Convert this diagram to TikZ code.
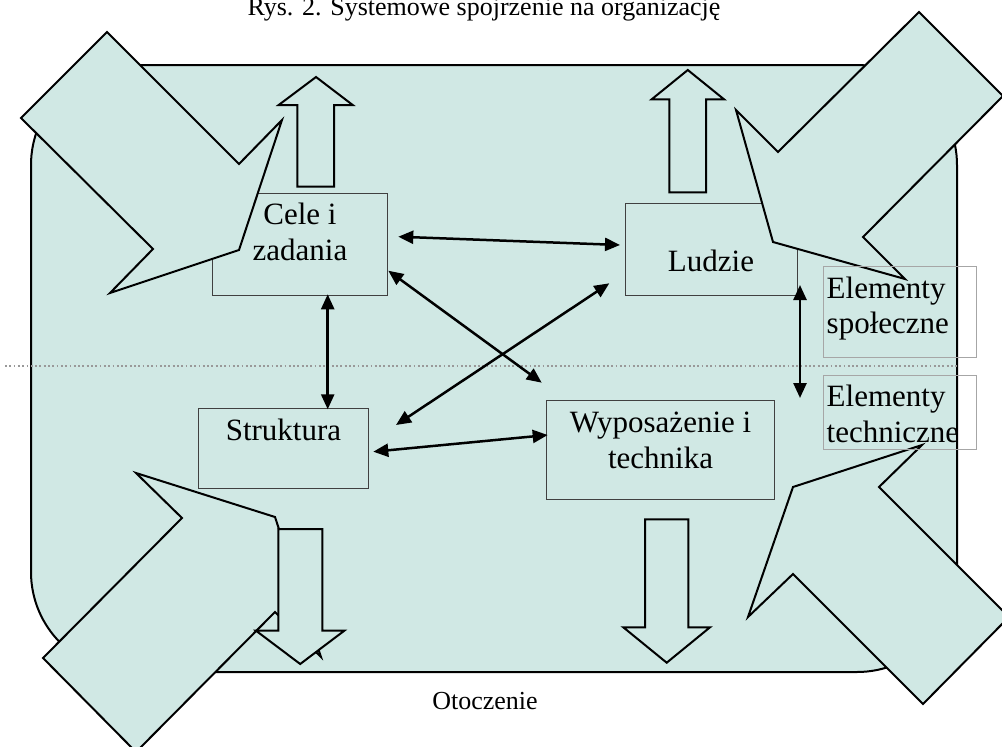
\documentclass[tikz,border=0pt]{standalone}
\usepackage{fontspec}
\setmainfont{Liberation Serif}
\usetikzlibrary{arrows.meta}
\definecolor{bgc}{HTML}{D0E8E4}
\begin{document}
\begin{tikzpicture}[x=1pt,y=-1pt,
  bigarrow/.style={fill=bgc,draw=black,line width=2pt},
  blockarrow/.style={fill=bgc,draw=black,line width=2pt},
  box/.style={rectangle,draw=black!75,line width=1pt,inner sep=0pt,outer sep=0pt},
  greybox/.style={rectangle,draw=black!35,line width=1pt,inner sep=0pt,outer sep=0pt},
  dbl/.style={line width=2.5pt,{Triangle[length=15pt,width=13pt]}-{Triangle[length=15pt,width=13pt]}},
  btxt/.style={font=\fontsize{31}{36}\selectfont,inner sep=0pt,anchor=base},
  ltxt/.style={font=\fontsize{31}{36}\selectfont,inner sep=0pt,anchor=base west},
  stxt/.style={font=\fontsize{26}{30}\selectfont,inner sep=0pt,anchor=base}]
\useasboundingbox (0,0) rectangle (1002,747);
% background (organisation)
\draw[fill=bgc,line width=2pt,rounded corners=100pt] (31,65) rectangle (957,672);
% dotted separator
\draw[draw=black!40,line width=1.8pt,dash pattern=on 1.8pt off 2.5pt] (5,365.7) -- (959,365.7);
% boxes
\node[box,minimum width=174.8pt,minimum height=102.3pt] (cele) at (300,244.2) {};
\node[box,minimum width=172.3pt,minimum height=92pt] (ludzie) at (711.2,249.3) {};
\node[box,minimum width=170pt,minimum height=79.6pt] (struktura) at (283.3,448.5) {};
\node[box,minimum width=227.6pt,minimum height=98.3pt] (wypos) at (660.5,449.9) {};
% big environment arrows
\draw[bigarrow] (107,32) -- (21,118) -- (153,249) -- (110,293) -- (239,250) -- (282,120) -- (239,164) -- cycle;
\draw[bigarrow] (919,12) -- (1003,96) -- (863,237) -- (905,279) -- (773,242) -- (736,110) -- (778,152) -- cycle;
\draw[bigarrow] (748,617) -- (793,487) -- (922,445) -- (879,487) -- (1009,617) -- (923,704) -- (793,574) -- cycle;
\draw[bigarrow] (136,473) -- (275,517) -- (321,657) -- (275,612) -- (136,752) -- (43,658) -- (182,518) -- cycle;
% block arrows up / down
\draw[blockarrow] (297.3,186.7) -- (297.3,105) -- (278.7,105) -- (316,77) -- (352.7,105) -- (334,105) -- (334,186.7) -- cycle;
\draw[blockarrow] (669.3,192.3) -- (669.3,99.3) -- (651.7,99.3) -- (687.8,70) -- (724,99.3) -- (706,99.3) -- (706,192.3) -- cycle;
\draw[blockarrow] (278.3,529) -- (278.3,630.7) -- (256,630.7) -- (300.2,664) -- (344.3,630.7) -- (322.3,630.7) -- (322.3,529) -- cycle;
\draw[blockarrow] (645,519.3) -- (645,627.3) -- (623.3,627.3) -- (666.7,662.7) -- (710,627.3) -- (688.3,627.3) -- (688.3,519.3) -- cycle;
% connector end points
\coordinate (a1s) at (398.3,236.7); \coordinate (a1e) at (620,245);
\coordinate (a2s) at (388.3,270.7); \coordinate (a2e) at (541.7,382.7);
\coordinate (a3s) at (396,425);     \coordinate (a3e) at (609.3,283.3);
\coordinate (a4s) at (327.7,294.3); \coordinate (a4e) at (327.7,409.3);
\coordinate (a5s) at (373.3,451.7); \coordinate (a5e) at (547.7,435);
\coordinate (a6s) at (800,285);     \coordinate (a6e) at (800,398);
\draw[dbl] (a1s) -- (a1e);
\draw[dbl] (a2s) -- (a2e);
\draw[dbl] (a3s) -- (a3e);
\draw[dbl] (a4s) -- (a4e);
\draw[dbl] (a5s) -- (a5e);
\draw[dbl] (a6s) -- (a6e);
% element labels
\node[greybox,minimum width=153.4pt,minimum height=91pt] (spol) at (900,312.2) {};
\node[greybox,minimum width=153.4pt,minimum height=73.6pt] (tech) at (900,412.5) {};
% texts
\node[btxt] (celeA) at (300,224) {Cele i};
\node[btxt] (celeB) at (300,260) {zadania};
\node[btxt] (ludzieT) at (711,271.7) {Ludzie};
\node[btxt] (strukturaT) at (283.5,440) {Struktura};
\node[btxt] (wyposA) at (660.5,432.7) {Wyposażenie i};
\node[btxt] (wyposB) at (660.5,468.3) {technika};
\node[ltxt] (spolA) at (826.5,298.3) {Elementy};
\node[ltxt] (spolB) at (826.5,333.3) {społeczne};
\node[ltxt] (techA) at (826.5,406.7) {Elementy};
\node[ltxt] (techB) at (826.5,442.7) {techniczne};
\node[stxt] (title) at (484,15) {Rys. 2. Systemowe spojrzenie na organizację};
\node[stxt] (otoczenie) at (485,709.3) {Otoczenie};
\end{tikzpicture}
\end{document}
